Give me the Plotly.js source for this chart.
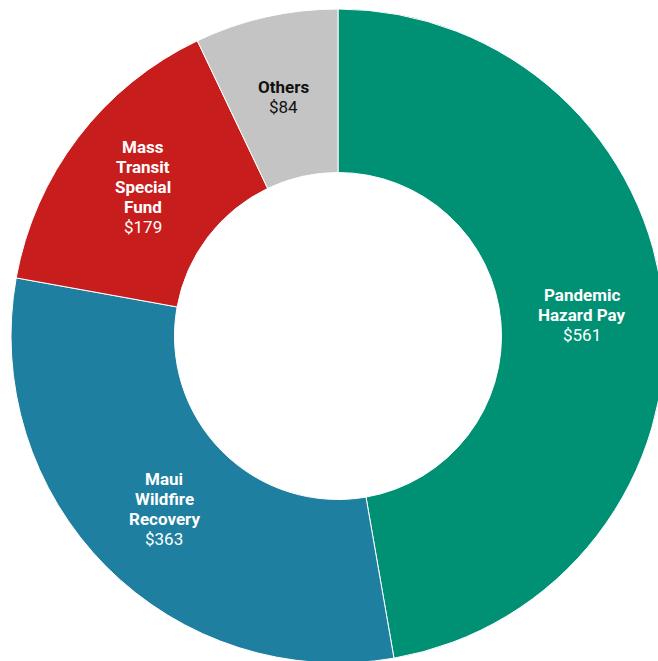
<!DOCTYPE html>
<html>
<head>
<meta charset="utf-8">
<script src="https://cdn.plot.ly/plotly-3.0.1.min.js"></script>
<style>
html, body { margin: 0; padding: 0; overflow: hidden; background: #fff; }
#chart { width: 700px; height: 700px; }
</style>
</head>
<body>
<div id="chart"></div>
<script>
const categories = ["Pandemic<br>Hazard Pay", "Maui<br>Wildfire<br>Recovery", "Mass<br>Transit<br>Special<br>Fund", "Others"];
const values = [561, 363, 179, 84];
const valueLabels = ["$561", "$363", "$179", "$84"];
const colors = ["#009074", "#1E7FA0", "#C81D1D", "#C4C4C4"];
const textColors = ["#ffffff", "#ffffff", "#ffffff", "#111111"];

const W = 700, H = 700;
const cx = 338, cy = 336, R = 327, HOLE = 0.5;
const LINE = 20, FS = 17;
const cyFromBottom = H - cy;

// label positions derived from the values: slice bisector at mid-radius
const total = values.reduce((a, b) => a + b, 0);
let acc = 0;
const annotations = [];
values.forEach((v, i) => {
  const mid = (acc + v / 2) / total * 2 * Math.PI;
  acc += v;
  const r = R * (1 + HOLE) / 2;
  const px = cx + r * Math.sin(mid);
  const py = cy - r * Math.cos(mid);
  const lines = categories[i].split("<br>").map(s => "<b>" + s + "</b>").concat([valueLabels[i]]);
  const n = lines.length;
  lines.forEach((t, k) => {
    const y = py + (k - (n - 1) / 2) * LINE;
    annotations.push({
      xref: "paper", yref: "paper",
      x: px / W, y: (H - y) / H,
      xanchor: "center", yanchor: "middle",
      showarrow: false, align: "center",
      text: t,
      font: { family: "Roboto", size: FS, color: textColors[i] }
    });
  });
});

Plotly.newPlot("chart", [{
  type: "pie",
  values: values,
  labels: categories,
  textinfo: "none",
  hole: HOLE,
  sort: false,
  direction: "clockwise",
  rotation: 0,
  marker: { colors: colors, line: { color: "#ffffff", width: 1 } },
  domain: { x: [(cx - R) / W, (cx + R) / W], y: [(cyFromBottom - R) / H, (cyFromBottom + R) / H] },
  showlegend: false,
  hoverinfo: "none"
}], {
  width: W,
  height: H,
  margin: { l: 0, r: 0, t: 0, b: 0, pad: 0 },
  paper_bgcolor: "#ffffff",
  showlegend: false,
  annotations: annotations
}, { displayModeBar: false, staticPlot: true });
</script>
</body>
</html>
